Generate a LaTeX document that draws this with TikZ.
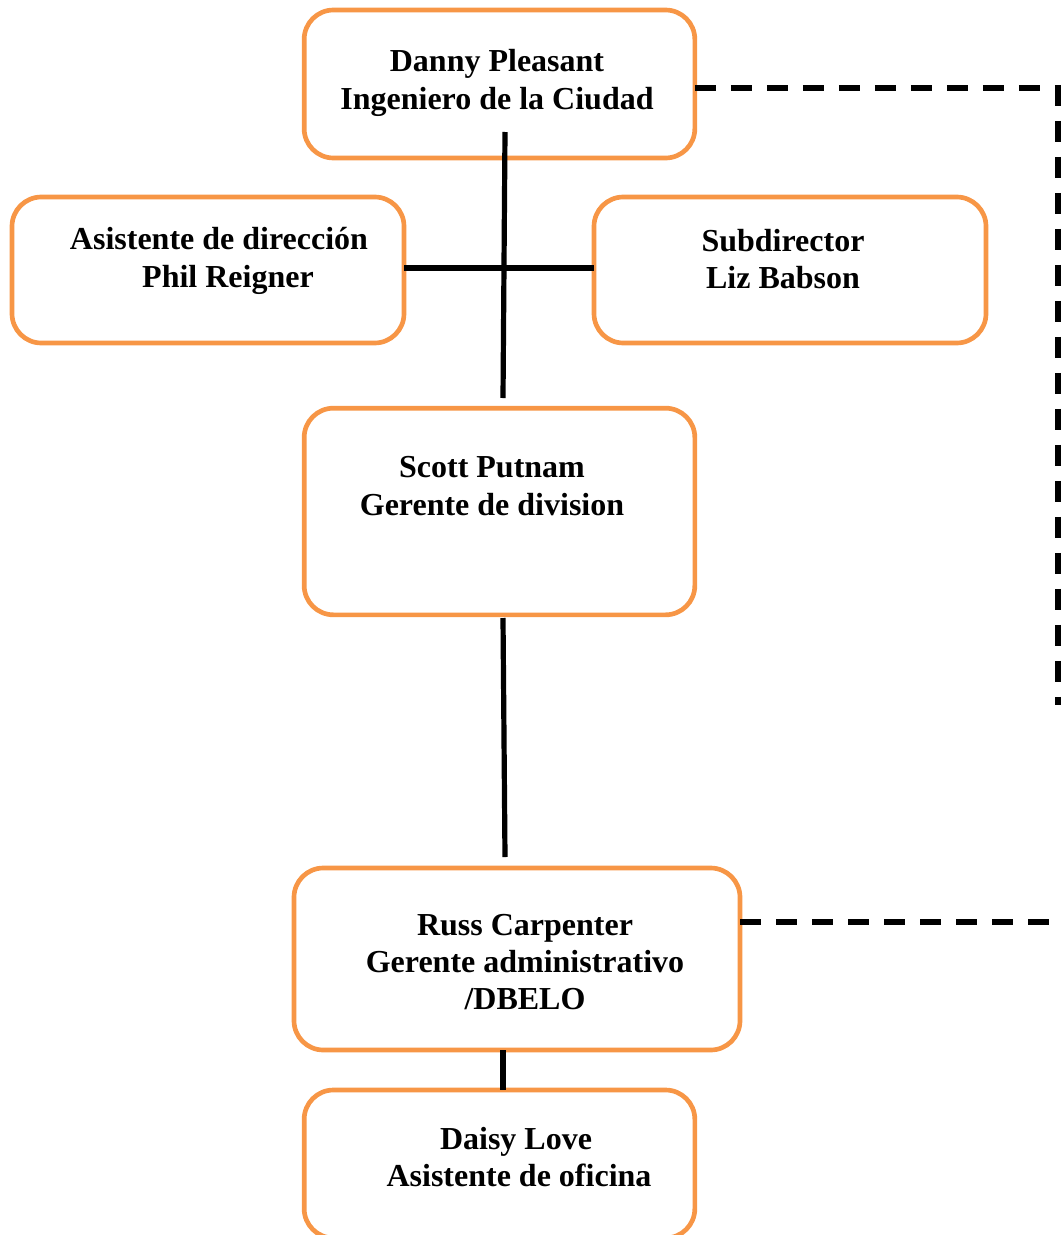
\documentclass[tikz,border=0pt]{standalone}
\usepackage{fontspec}
\setmainfont{Liberation Serif}
\definecolor{boxorange}{HTML}{F79646}
\begin{document}
\begin{tikzpicture}[x=0.75pt,y=-0.75pt,
  box/.style={draw=boxorange, line width=3.5pt, rounded corners=22pt, fill=white, inner sep=0pt, outer sep=0pt},
  lbl/.style={font=\bfseries\fontsize{24}{28}\selectfont, align=center, inner sep=0pt},
  solid line/.style={line width=3.9pt, black},
  dash line/.style={line width=4.2pt, black, dash pattern=on 15.5pt off 11.5pt}]
\useasboundingbox (0,0) rectangle (1062,1235);
% boxes
\node[box, minimum width=293pt, minimum height=111pt] (danny) at (499.5,84) {};
\node[box, minimum width=294pt, minimum height=109.5pt] (asist) at (208,270) {};
\node[box, minimum width=294pt, minimum height=109.5pt] (subd) at (790,270) {};
\node[box, minimum width=293pt, minimum height=155pt] (scott) at (499.5,511.5) {};
\node[box, minimum width=334.5pt, minimum height=136.5pt] (russ) at (517,959) {};
\node[box, minimum width=293pt, minimum height=111pt] (daisy) at (499.5,1164) {};
% labels
\node[lbl] (tdanny) at (497,83) {Danny Pleasant\\Ingeniero de la Ciudad};
\node[lbl] (tasist) at (219,261) {Asistente de dirección\\\hspace*{13.5pt}Phil Reigner};
\node[lbl] (tsubd) at (783,259) {Subdirector\\Liz Babson};
\node[lbl] (tscott) at (492,486) {Scott Putnam\\Gerente de division};
\node[lbl] (truss) at (525,962) {Russ Carpenter\\Gerente administrativo\\/DBELO};
\node[lbl] (tdaisy) at (516,1157) {Daisy Love\\\hspace*{4.5pt}Asistente de oficina};
% solid connectors
\coordinate (v1top) at (505,132);
\coordinate (v1bot) at (503,398);
\coordinate (v2top) at (503,618);
\coordinate (v2bot) at (505,857);
\coordinate (v3top) at (503,1050);
\coordinate (v3bot) at (503,1090);
\draw[solid line] (v1top) -- (v1bot);
\draw[solid line] (asist.east |- 0,268) -- (subd.west |- 0,268);
\draw[solid line] (v2top) -- (v2bot);
\draw[solid line] (v3top) -- (v3bot);
% dashed connectors
\coordinate (dcorner) at (1058,88);
\coordinate (dend) at (1058,705);
\coordinate (rend) at (1062,922);
\draw[dash line] (danny.east |- dcorner) -- (dcorner) -- (dend);
\draw[dash line] (russ.east |- rend) -- (rend);
\end{tikzpicture}
\end{document}
